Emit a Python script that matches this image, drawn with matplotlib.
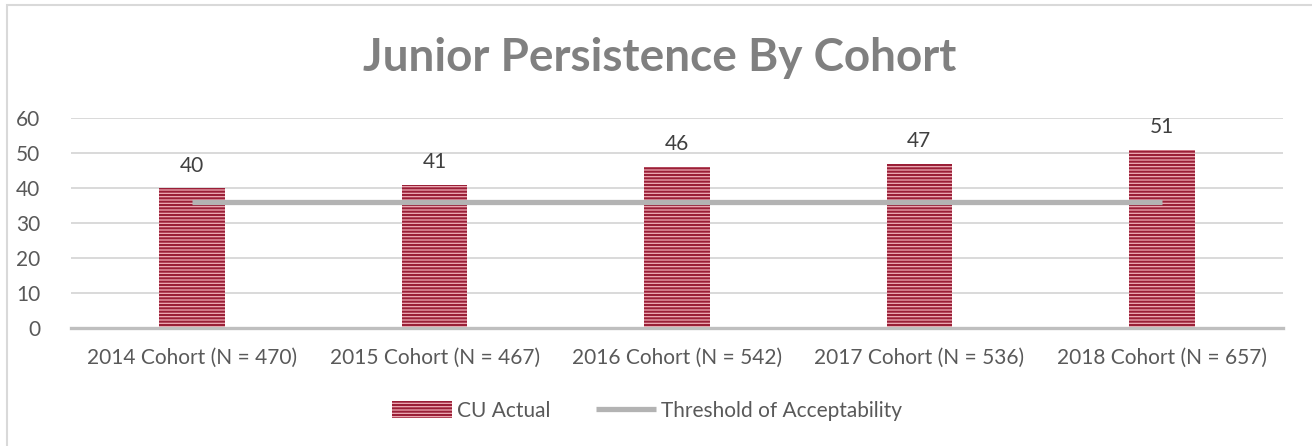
import matplotlib
matplotlib.use("Agg")
import matplotlib.pyplot as plt
from matplotlib.patches import Rectangle

cohorts = ["2014 Cohort (N = 470)", "2015 Cohort (N = 467)", "2016 Cohort (N = 542)",
           "2017 Cohort (N = 536)", "2018 Cohort (N = 657)"]
cu_actual = [40, 41, 46, 47, 51]
threshold = [36, 36, 36, 36, 36]
y_ticks = [0, 10, 20, 30, 40, 50, 60]

plt.rcParams["font.family"] = ["Lato", "DejaVu Sans"]
plt.rcParams["hatch.linewidth"] = 1.5

W, H = 1312, 446
fig = plt.figure(figsize=(W / 100, H / 100), dpi=100)
ax = fig.add_axes([71 / W, 1 - 328 / H, (1283 - 71) / W, (328 - 118) / H])

# outer chart border (only left and top visible in the crop)
fig.patches.append(Rectangle((7 / W, -0.1), 1.2, 1 - 5 / H + 0.1, transform=fig.transFigure,
                             fill=False, edgecolor="#d9d9d9", linewidth=1.5))

x = list(range(len(cohorts)))
bars = ax.bar(x, cu_actual, width=0.27, color="#eeadb6", edgecolor="#9a1f37",
              hatch="-----", linewidth=0, label="CU Actual", zorder=2)
line, = ax.plot(x, threshold, color="#b3b3b3", linewidth=3.8, solid_capstyle="butt",
                label="Threshold of Acceptability", zorder=3)

for xi, v in zip(x, cu_actual):
    ax.annotate(str(v), (xi, v), xytext=(0, 9), textcoords="offset points",
                ha="center", va="bottom", fontsize=15, color="#404040")

ax.set_xlim(-0.5, len(cohorts) - 0.5)
ax.set_ylim(0, 60)
ax.set_yticks(y_ticks)
ax.set_xticks(x)
ax.set_xticklabels(cohorts)
ax.tick_params(axis="both", length=0, labelsize=15, labelcolor="#595959")
ax.tick_params(axis="y", pad=22)
ax.tick_params(axis="x", pad=14)
ax.grid(axis="y", color="#d9d9d9", linewidth=1.4, zorder=0)
ax.set_axisbelow(True)
for s in ["top", "right", "left"]:
    ax.spines[s].set_visible(False)
ax.spines["bottom"].set_color("#bfbfbf")
ax.spines["bottom"].set_linewidth(2.4)
ax.spines["bottom"].set_zorder(4)

fig.text(0.503, 1 - 58 / H, "Junior Persistence By Cohort", ha="center", va="center",
         fontsize=33, fontweight="bold", color="#808080")

fig.legend([bars, line], ["CU Actual", "Threshold of Acceptability"],
           loc="center", bbox_to_anchor=(0.493, 1 - 411 / H), ncol=2, frameon=False,
           fontsize=15, labelcolor="#595959", handlelength=2.9, handleheight=0.9,
           columnspacing=2.2, handletextpad=0.2)

fig.savefig("out.png", dpi=100)
